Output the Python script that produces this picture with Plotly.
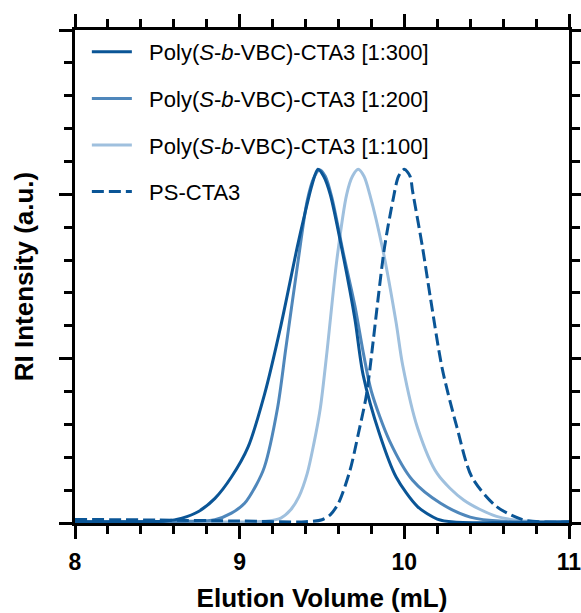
import plotly.graph_objects as go

# GPC traces (RI detector), intensity vs elution volume
vol_300 = [8.00, 8.30, 8.55, 8.65, 8.75, 8.85, 8.95, 9.05, 9.15, 9.25, 9.35, 9.40, 9.44, 9.475,
           9.51, 9.55, 9.63, 9.70, 9.75, 9.85, 9.95, 10.08, 10.20, 10.30, 11.00]
ri_300 = [0.004, 0.004, 0.006, 0.015, 0.035, 0.075, 0.14, 0.23, 0.39, 0.60, 0.84, 0.95, 1.03, 1.076,
          1.055, 1.00, 0.81, 0.62, 0.45, 0.27, 0.14, 0.05, 0.012, 0.003, 0.003]

vol_200 = [8.00, 8.70, 8.85, 8.95, 9.03, 9.10, 9.15, 9.23, 9.28, 9.35, 9.41, 9.45, 9.485,
           9.52, 9.56, 9.63, 9.70, 9.75, 9.80, 9.91, 10.05, 10.22, 10.40, 10.60, 11.00]
ri_200 = [0.004, 0.005, 0.01, 0.03, 0.06, 0.115, 0.17, 0.35, 0.53, 0.78, 0.98, 1.05, 1.075,
          1.055, 0.99, 0.82, 0.66, 0.52, 0.40, 0.25, 0.13, 0.06, 0.018, 0.005, 0.004]

vol_100 = [8.00, 9.10, 9.17, 9.25, 9.31, 9.36, 9.41, 9.45, 9.49, 9.53, 9.59, 9.65, 9.685, 9.72,
           9.755, 9.79, 9.87, 9.95, 9.99, 10.08, 10.20, 10.36, 10.56, 10.76, 11.00]
ri_100 = [0.004, 0.004, 0.006, 0.015, 0.04, 0.08, 0.15, 0.24, 0.35, 0.52, 0.80, 1.00, 1.055, 1.076,
          1.055, 1.00, 0.83, 0.61, 0.48, 0.29, 0.15, 0.07, 0.02, 0.005, 0.004]

vol_ps = [8.00, 8.50, 9.00, 9.40, 9.50, 9.55, 9.60, 9.67, 9.72, 9.77, 9.81, 9.84, 9.88, 9.93, 9.965,
          10.00, 10.035, 10.05, 10.11, 10.16, 10.23, 10.32, 10.41, 10.56, 10.72, 10.86, 11.00]
ri_ps = [0.011, 0.009, 0.006, 0.004, 0.01, 0.025, 0.06, 0.16, 0.27, 0.39, 0.55, 0.68, 0.84, 0.98, 1.055,
         1.076, 1.055, 1.01, 0.84, 0.68, 0.47, 0.29, 0.14, 0.05, 0.01, 0.003, 0.003]

names = ["Poly(<i>S</i>-<i>b</i>-VBC)-CTA3 [1:300]",
         "Poly(<i>S</i>-<i>b</i>-VBC)-CTA3 [1:200]",
         "Poly(<i>S</i>-<i>b</i>-VBC)-CTA3 [1:100]",
         "PS-CTA3"]

DARK = "#0a5596"
MID = "#4f87bb"
LIGHT = "#9fc0de"

FONT = "Liberation Sans"
PAD = "&nbsp;&nbsp;"  # extra gap between legend line sample and label

fig = go.Figure()

series = [
    (vol_100, ri_100, names[2], LIGHT, "solid", 3),
    (vol_200, ri_200, names[1], MID, "solid", 2),
    (vol_300, ri_300, names[0], DARK, "solid", 1),
    (vol_ps, ri_ps, names[3], DARK, "12px,5px", 4),
]
for x, y, name, color, dash, rank in series:
    fig.add_trace(go.Scatter(
        x=x, y=y, mode="lines", name=PAD + name,
        line=dict(color=color, width=3, dash=dash, shape="spline", smoothing=0.8),
        legendrank=rank, legendgroup=name,
    ))

axis_common = dict(
    showline=True, linecolor="black", linewidth=3, mirror="allticks",
    ticks="outside", ticklen=13, tickwidth=3, tickcolor="black",
    showgrid=False, zeroline=False, automargin=False,
)

fig.update_xaxes(
    range=[8, 11], dtick=1, tick0=8,
    minor=dict(dtick=0.2, ticks="outside", ticklen=8, tickwidth=3, tickcolor="black"),
    tickfont=dict(family=FONT, size=23, color="black", weight="bold"),
    ticklabelstandoff=3, ticklabeloverflow="allow",
    title=dict(text="Elution Volume (mL)", standoff=16,
               font=dict(family=FONT, size=26, color="black", weight="bold")),
    **axis_common,
)
fig.update_yaxes(
    range=[0, 1.5], dtick=0.5, tick0=0, showticklabels=False,
    minor=dict(dtick=0.1, ticks="outside", ticklen=8, tickwidth=3, tickcolor="black"),
    title=dict(text="RI Intensity (a.u.)", standoff=18,
               font=dict(family=FONT, size=26, color="black", weight="bold")),
    **axis_common,
)

fig.update_layout(
    width=581, height=613,
    margin=dict(l=75, r=12, t=30, b=90),
    paper_bgcolor="white", plot_bgcolor="white",
    font=dict(family=FONT, color="black"),
    legend=dict(
        x=0.024, y=0.998, xanchor="left", yanchor="top",
        font=dict(family=FONT, size=22, color="black"),
        bgcolor="rgba(0,0,0,0)", traceorder="grouped", tracegroupgap=15,
        itemwidth=40,
    ),
)

fig.write_html("out.html")
